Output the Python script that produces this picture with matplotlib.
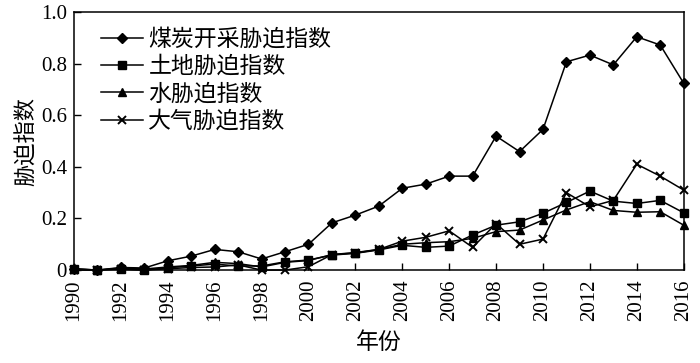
import matplotlib
matplotlib.use("Agg")
import matplotlib.pyplot as plt

plt.rcParams['font.family'] = ['Liberation Serif', 'Noto Sans CJK SC']

years = list(range(1990, 2017))
coal = [0.005, 0.0, 0.01, 0.008, 0.036, 0.054, 0.08, 0.071, 0.043, 0.071, 0.10,
        0.183, 0.213, 0.248, 0.317, 0.333, 0.364, 0.364, 0.519, 0.459, 0.545,
        0.807, 0.833, 0.795, 0.904, 0.872, 0.724]
land = [0.005, 0.0, 0.003, 0.0, 0.009, 0.016, 0.023, 0.016, 0.016, 0.032, 0.039,
        0.058, 0.065, 0.078, 0.096, 0.088, 0.093, 0.136, 0.174, 0.187, 0.22,
        0.262, 0.306, 0.267, 0.258, 0.27, 0.222]
water = [0.003, 0.0, 0.008, 0.004, 0.012, 0.018, 0.03, 0.025, 0.012, 0.03, 0.037,
         0.06, 0.066, 0.08, 0.1, 0.106, 0.11, 0.123, 0.149, 0.155, 0.194,
         0.233, 0.265, 0.231, 0.224, 0.226, 0.174]
air = [0.0, 0.0, 0.005, 0.0, 0.005, 0.01, 0.012, 0.02, 0.0, 0.0, 0.013,
       0.06, 0.068, 0.08, 0.112, 0.127, 0.152, 0.088, 0.18, 0.10, 0.12,
       0.30, 0.245, 0.27, 0.41, 0.364, 0.31]
labels = ['煤炭开采胁迫指数', '土地胁迫指数', '水胁迫指数', '大气胁迫指数']
xticks = list(range(1990, 2017, 2))
yticks = [0, 0.2, 0.4, 0.6, 0.8, 1.0]
yticklabels = ['0', '0.2', '0.4', '0.6', '0.8', '1.0']

fig = plt.figure(figsize=(7, 3.63), dpi=100)
ax = fig.add_axes([0.1057, 0.256, 0.871, 0.711])

kw = dict(color='black', lw=1.1, clip_on=False)
ax.plot(years, coal, marker='D', ms=5, label=labels[0], **kw)
ax.plot(years, land, marker='s', ms=6, label=labels[1], **kw)
ax.plot(years, water, marker='^', ms=6, label=labels[2], **kw)
ax.plot(years, air, marker='x', ms=6, mew=1.4, label=labels[3], **kw)

ax.set_xlim(1990, 2016)
ax.set_ylim(0, 1.0)
ax.set_xticks(xticks)
ax.set_xticklabels([str(x) for x in xticks], rotation=90, fontsize=15)
ax.set_yticks(yticks)
ax.set_yticklabels(yticklabels, fontsize=15)
ax.tick_params(direction='in', length=5, width=1, top=False, right=False)
ax.tick_params(axis='x', pad=7)
ax.tick_params(axis='y', pad=5)
for s in ax.spines.values():
    s.set_linewidth(1.1)

ax.set_xlabel('年份', fontsize=16.5, labelpad=8)
ax.set_ylabel('胁迫指数', fontsize=16, labelpad=2)

leg = ax.legend(loc='upper left', frameon=False, fontsize=16.5, handlelength=1.8,
                labelspacing=0.25, borderaxespad=0.0, handletextpad=0.25,
                bbox_to_anchor=(0.03, 0.97))

fig.savefig('out.png', dpi=100)
